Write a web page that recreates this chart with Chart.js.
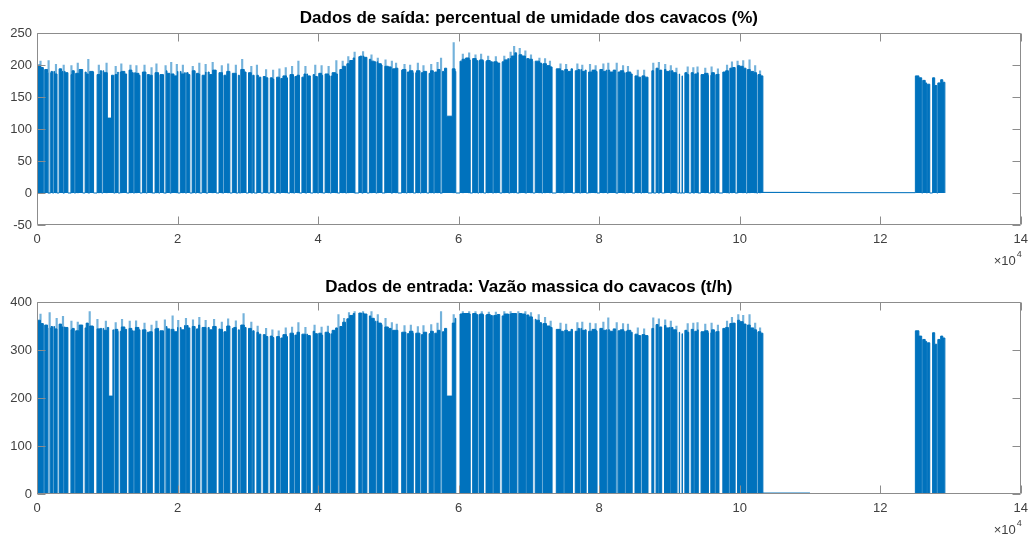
<!DOCTYPE html>
<html>
<head>
<meta charset="utf-8">
<script src="https://cdn.jsdelivr.net/npm/chart.js@4.4.1/dist/chart.umd.min.js"></script>
<style>
  html, body { margin: 0; padding: 0; background: #ffffff; }
  #wrap { position: relative; width: 1035px; height: 538px; }
  .cv { position: absolute; left: 0; }
</style>
</head>
<body>
<div id="wrap">
  <canvas id="c1" class="cv" width="1035" height="269" style="top:0px"></canvas>
  <canvas id="c2" class="cv" width="1035" height="269" style="top:269px"></canvas>
</div>
<script>
// ---------------- DATA ----------------
const xTickLabels = [0, 2, 4, 6, 8, 10, 12, 14];   // x 10^4 samples
const moistYTicks = [-50, 0, 50, 100, 150, 200, 250];
const flowYTicks = [0, 100, 200, 300, 400];

// solid body of the dense signal: one value per 500 samples (0 .. 103000)
const moistBody = [
  200,196,193,188,190,186,194,190,188,185,191,187,193,189,186,190,189,185,191,188,
  188,184,185,189,190,186,192,188,187,184,189,185,184,188,188,185,191,187,186,183,
  190,186,188,185,191,187,186,184,189,185,192,188,188,184,190,187,187,184,193,189,
  188,184,184,181,182,180,180,178,181,179,183,180,185,182,184,181,186,183,185,182,
  187,184,186,183,188,186,193,198,202,207,211,213,214,212,209,206,205,202,200,198,
  197,194,195,192,193,189,191,188,191,188,190,187,191,189,193,190,195,192,194,190,
  206,209,211,208,210,207,208,206,207,205,205,203,205,208,210,214,219,216,214,210,
  209,206,206,203,202,199,197,194,194,191,193,190,194,191,193,190,192,189,192,190,
  193,190,192,189,192,189,191,188,189,186,183,181,183,181,194,191,195,192,193,190,
  191,188,186,183,188,185,188,186,188,185,187,184,188,185,186,189,191,195,196,199,
  198,195,193,190,188,185,183
];
const flowBody = [
  362,355,352,346,349,344,354,348,347,342,345,340,352,346,356,350,349,344,345,341,
  347,342,343,339,348,343,345,340,347,342,342,337,338,344,345,340,349,344,343,338,
  347,342,351,346,349,344,352,347,347,342,349,344,343,338,350,345,347,342,352,347,
  345,340,337,333,332,328,329,326,328,325,332,328,335,331,337,333,333,330,339,334,
  335,331,337,334,341,346,349,358,365,372,376,377,377,375,371,366,360,356,353,348,
  345,341,341,337,337,334,339,335,335,332,337,334,339,335,341,338,345,341,356,366,
  375,376,376,375,376,374,375,373,374,372,372,374,371,375,375,376,376,376,375,373,
  369,364,362,357,355,350,347,343,343,339,341,338,343,339,345,341,342,339,343,340,
  345,341,342,339,344,340,342,339,341,337,333,330,332,330,349,345,353,348,351,346,
  347,342,337,334,341,337,343,339,342,338,340,336,342,338,339,345,347,355,356,362,
  359,354,352,346,342,338,335
];
const denseEnd = 103300;

// stretches where both signals sit at zero: [centre sample, duration]
const stopGaps = [
  [1750,400],[3000,300],[4600,450],[6650,350],[8300,500],[11700,300],[12900,350],
  [14800,350],[16600,400],[18200,400],[20200,350],[21900,350],[23300,350],[24200,300],
  [25700,400],[27600,350],[28500,300],[29900,350],[31100,400],[32000,350],[33000,350],
  [33900,400],[35800,350],[37500,350],[39100,400],[40800,350],[42900,350],[45500,600],
  [47100,350],[49300,400],[51600,550],[53700,350],[55600,350],[57500,350],[59900,600],
  [61800,350],[63700,350],[66000,350],[68400,350],[70700,350],[73600,600],[76400,400],
  [78300,350],[79900,400],[82500,350],[84900,400],[87200,550],[87900,350],[89100,400],
  [91200,350],[91600,350],[92000,350],[92900,350],[94300,400],[95700,350],[97300,550],
  [99500,350]
];
// very short stops (faint stripes)
const shortStops = [
  1000,2300,3800,5400,7400,9300,11000,13800,15600,17400,19000,21200,22600,26500,28900,
  30600,34600,36600,38300,40000,41800,44000,46300,48300,50500,52600,54600,56500,62800,
  64900,67200,69600,71900,75000,77300,81200,83700,86000,88500,90200,93500,96500,98500,
  101000,102500
];

// reduced-amplitude stretches: [from, to, value]
const moistDips = [[10000,10600,117],[58300,59100,120]];
const flowDips = [[10200,10800,204],[58300,59100,204]];

// thin peaks standing above the solid body: [sample, value]
const moistPeaks = [[500,206],[1650,207],[2700,201],[3800,200],[4900,199],[5800,203],[7300,209],
  [8800,200],[9900,203],[11200,198],[12000,202],[13300,200],[14150,199],[15300,200],[16300,196],
  [17000,202],[18300,199],[19100,204],[19900,201],[20760,200],[22170,198],[23100,203],[24000,201],
  [25000,204],[26300,199],[27200,202],[28300,200],[29200,209],[30500,198],[31300,200],[32600,193],
  [33600,192],[34500,194],[35400,196],[36300,198],[37200,206],[38200,198],[39600,200],[40500,199],
  [41500,198],[42600,207],[43500,206],[44300,213],[45200,220],[46400,221],[47600,216],[48500,211],
  [49600,208],[50500,206],[51100,203],[52300,201],[53100,200],[54200,203],[55000,199],[56100,201],
  [57000,204],[57500,211],[59300,235],[60600,217],[61500,219],[62400,216],[63200,217],[64200,214],
  [65300,213],[66500,214],[67400,220],[67900,229],[68700,226],[69500,222],[70300,216],[71500,211],
  [72300,210],[73000,206],[74500,202],[75300,201],[76900,202],[77600,200],[78700,201],[79500,199],
  [80600,202],[81300,203],[82500,203],[83400,199],[84100,198],[85500,192],[86400,192],[87700,203],
  [88500,204],[89400,201],[90200,199],[91000,195],[92600,197],[93400,196],[94000,197],[95100,195],
  [96000,197],[96900,194],[98200,200],[98900,205],[99700,206],[100500,207],[101400,208],
  [102200,199],[102900,191]];
const flowPeaks = [[500,375],[1800,378],[2800,366],[3700,370],[4900,360],[5800,358],[7500,380],
  [8600,364],[9800,360],[11200,357],[12100,364],[13200,360],[14100,361],[15300,356],[16300,352],
  [17000,360],[18200,363],[19300,371],[20100,362],[21200,366],[22200,363],[23100,368],[24000,362],
  [25200,364],[26300,358],[27200,365],[28300,361],[29400,376],[30500,358],[31400,350],[32600,345],
  [33500,342],[34400,340],[35400,346],[36300,348],[37200,357],[38200,347],[39500,352],[40500,348],
  [41400,350],[42900,374],[43700,366],[44400,378],[45200,380],[46400,380],[47600,380],[48500,374],
  [49600,366],[50500,357],[51200,354],[52300,351],[53200,352],[54200,349],[55000,351],[56100,353],
  [57000,356],[57500,380],[59300,374],[60600,380],[61500,380],[62400,380],[63300,380],[64300,379],
  [65300,379],[66500,380],[67400,380],[68500,380],[69500,380],[70300,378],[71400,374],[72300,368],
  [73100,360],[74500,356],[75300,354],[76900,357],[77600,358],[78700,356],[79500,355],[80600,358],
  [81300,367],[82500,357],[83400,355],[84100,354],[85500,346],[86400,344],[87700,367],[88500,365],
  [89400,363],[90200,360],[91000,350],[92600,355],[93400,356],[94000,357],[95100,354],[96000,356],
  [96900,352],[98200,360],[98900,368],[99800,374],[100500,372],[101400,374],[102200,356],
  [102900,346]];

// idle stretch after the dense part: [from sample, level]
const moistIdle = [[103300,1],[110000,0.5]];
const flowIdle = [[103300,2],[110000,0.5]];

// final short run near 12.5e4 - 12.9e4: [sample, value]
const moistTail = [[125000,183],[125500,180],[125900,0],[126050,176],[126400,172],[126600,0],
  [126700,170],[127050,0],[127450,180],[127750,168],[128050,0],[128200,172],[128600,177],
  [128900,173],[129200,0]];
const flowTail = [[125000,340],[125500,329],[125900,0],[126050,322],[126400,318],[126600,0],
  [126700,315],[127050,0],[127450,336],[127750,312],[128050,0],[128200,322],[128600,329],
  [128900,325],[129200,0]];

// ---------------- build step series from the data ----------------
function buildSeries(body, dips, idle, tail) {
  const res = 50;
  const pts = [];
  let last = null;
  const push = (x, y) => { if (last === null || y !== last) { pts.push({x: x, y: y}); last = y; } };
  for (let x = 0; x < denseEnd; x += res) {
    let y = body[Math.min(body.length - 1, Math.floor(x / 500))];
    for (const d of dips) if (x >= d[0] && x < d[1]) y = d[2];
    for (const g of stopGaps) if (x >= g[0] - g[1] / 2 && x < g[0] + g[1] / 2) y = 0;
    for (const s of shortStops) if (x >= s - 100 && x < s + 100) y = 0;
    push(x, y);
  }
  for (const p of idle) push(p[0], p[1]);
  for (const p of tail) { pts.push({x: p[0], y: p[1]}); last = p[1]; }
  return pts;
}
const toPts = arr => arr.map(p => ({x: p[0], y: p[1]}));

const BLUE = '#0072BD';
const LIGHT = 'rgba(0,114,189,0.55)';
const AXIS = '#8c8c8c';
const LABEL = '#404040';
const FONT = "'Liberation Sans', Arial, Helvetica, sans-serif";

const matlabAxes = {
  id: 'matlabAxes',
  afterDraw(chart) {
    const ctx = chart.ctx, a = chart.chartArea;
    const xs = chart.scales.x, ys = chart.scales.y;
    ctx.save();
    ctx.strokeStyle = AXIS;
    ctx.lineWidth = 1;
    const L = Math.round(a.left) + 0.5, R = Math.round(a.right) - 0.5;
    const T = Math.round(a.top) + 0.5, B = Math.round(a.bottom) - 0.5;
    ctx.beginPath();
    ctx.rect(L, T, R - L, B - T);
    const tl = 8;
    xs.ticks.forEach(t => {
      const px = Math.round(xs.getPixelForValue(t.value)) + 0.5;
      ctx.moveTo(px, T); ctx.lineTo(px, T + tl);
      ctx.moveTo(px, B); ctx.lineTo(px, B - tl);
    });
    ys.ticks.forEach(t => {
      const py = Math.round(ys.getPixelForValue(t.value)) + 0.5;
      ctx.moveTo(L, py); ctx.lineTo(L + tl, py);
      ctx.moveTo(R, py); ctx.lineTo(R - tl, py);
    });
    ctx.stroke();
    ctx.fillStyle = LABEL;
    ctx.textBaseline = 'middle';
    ctx.textAlign = 'right';
    ctx.font = '9px ' + FONT;
    ctx.fillText('4', a.right + 1, a.bottom + 30);
    ctx.font = '13px ' + FONT;
    ctx.fillText('\u00d710', a.right - 5, a.bottom + 36);
    ctx.restore();
  }
};

function makeChart(id, title, pts, peaks, yTicks) {
  const yMin = yTicks[0], yMax = yTicks[yTicks.length - 1];
  return new Chart(document.getElementById(id), {
    type: 'line',
    data: {
      datasets: [{
        type: 'line',
        order: 1,
        data: pts,
        borderColor: BLUE,
        backgroundColor: BLUE,
        borderWidth: 1,
        pointRadius: 0,
        stepped: true,
        fill: 'origin',
        tension: 0
      }, {
        type: 'bar',
        order: 2,
        data: peaks,
        backgroundColor: LIGHT,
        borderWidth: 0,
        barThickness: 1.5,
        grouped: false
      }]
    },
    options: {
      responsive: false,
      animation: false,
      devicePixelRatio: 1,
      events: [],
      layout: { padding: { left: 0, right: 9, top: 0, bottom: 0 } },
      plugins: {
        legend: { display: false },
        tooltip: { enabled: false },
        title: {
          display: true,
          text: title,
          fullSize: false,
          color: '#000000',
          font: { family: FONT, size: 17, weight: 'bold' },
          padding: { top: 8.5, bottom: 4.1 }
        }
      },
      scales: {
        x: {
          type: 'linear',
          offset: false,
          min: 0, max: 140000,
          grid: { display: false, drawTicks: false, offset: false },
          border: { display: false },
          afterBuildTicks: s => { s.ticks = xTickLabels.map(v => ({ value: v * 10000 })); },
          ticks: {
            color: LABEL,
            font: { family: FONT, size: 13 },
            padding: 7,
            maxRotation: 0,
            autoSkip: false,
            callback: v => String(v / 10000)
          },
          afterFit: s => { s.height = 44; }
        },
        y: {
          type: 'linear',
          min: yMin, max: yMax,
          grid: { display: false, drawTicks: false },
          border: { display: false },
          afterBuildTicks: s => { s.ticks = yTicks.map(v => ({ value: v })); },
          ticks: {
            color: LABEL,
            font: { family: FONT, size: 13 },
            padding: 5,
            autoSkip: false,
            callback: v => String(v)
          },
          afterFit: s => { s.width = 37; }
        }
      }
    },
    plugins: [matlabAxes]
  });
}

makeChart('c1', 'Dados de saída: percentual de umidade dos cavacos (%)',
  buildSeries(moistBody, moistDips, moistIdle, moistTail), toPts(moistPeaks), moistYTicks);
makeChart('c2', 'Dados de entrada: Vazão massica do cavacos (t/h)',
  buildSeries(flowBody, flowDips, flowIdle, flowTail), toPts(flowPeaks), flowYTicks);
</script>
</body>
</html>
